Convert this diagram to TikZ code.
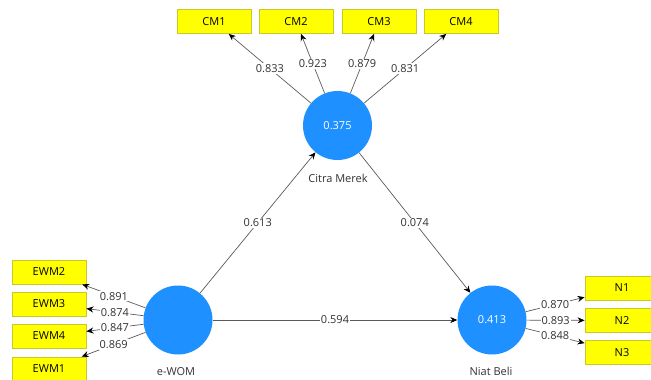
\documentclass[tikz,border=0pt]{standalone}
\usepackage{fontspec}
\setmainfont{Open Sans}
\usetikzlibrary{arrows.meta}
\definecolor{lvblue}{RGB}{30,144,255}
\definecolor{indfill}{RGB}{255,255,0}
\definecolor{inddraw}{RGB}{200,200,40}
\definecolor{linkgray}{RGB}{90,90,90}
\definecolor{txtgray}{RGB}{50,50,50}
\begin{document}
\begin{tikzpicture}[x=1pt,y=-1pt,
  latent/.style={circle,fill=lvblue,minimum size=69pt,inner sep=0pt,text=white,font=\fontsize{11}{13}\selectfont},
  indicator/.style={rectangle,fill=indfill,draw=inddraw,line width=0.8pt,minimum width=74pt,minimum height=24pt,inner sep=0pt,font=\fontsize{11}{13}\selectfont},
  link/.style={draw=linkgray,line width=0.7pt,-{Stealth[length=7pt,width=6pt,color=black]}},
  coef/.style={fill=white,inner sep=1pt,text=txtgray,font=\fontsize{11}{13}\selectfont},
  lvname/.style={text=txtgray,font=\fontsize{11}{13}\selectfont}
]
\useasboundingbox (0,0) rectangle (651,380);
\clip (0,0) rectangle (651,380);

% latent variables
\node[latent] (cm) at (337.5,125.5) {0.375};
\node[latent] (ew) at (178,320) {};
\node[latent] (nb) at (492,320) {0.413};
\node[lvname] (cmname) at (338,178) {Citra Merek};
\node[lvname] (ewname) at (176,372) {e-WOM};
\node[lvname] (nbname) at (491,371) {Niat Beli};

% indicators
\node[indicator] (cm1) at (214,21.5) {CM1};
\node[indicator] (cm2) at (296,21.5) {CM2};
\node[indicator] (cm3) at (379,21.5) {CM3};
\node[indicator] (cm4) at (461,21.5) {CM4};
\node[indicator] (ewm2) at (49,272) {EWM2};
\node[indicator] (ewm3) at (49,304) {EWM3};
\node[indicator] (ewm4) at (49,336) {EWM4};
\node[indicator] (ewm1) at (49,369) {EWM1};
\node[indicator] (n1) at (622,288) {N1};
\node[indicator] (n2) at (622,320.5) {N2};
\node[indicator] (n3) at (622,352.5) {N3};

% outer loadings
\draw[link] (cm) -- node[coef] {0.833} (cm1);
\draw[link] (cm) -- node[coef] {0.923} (cm2);
\draw[link] (cm) -- node[coef] {0.879} (cm3);
\draw[link] (cm) -- node[coef] {0.831} (cm4);
\draw[link] (ew) -- node[coef] {0.891} (ewm2);
\draw[link] (ew) -- node[coef] {0.874} (ewm3);
\draw[link] (ew) -- node[coef] {0.847} (ewm4);
\draw[link] (ew) -- node[coef] {0.869} (ewm1);
\draw[link] (nb) -- node[coef] {0.870} (n1);
\draw[link] (nb) -- node[coef] {0.893} (n2);
\draw[link] (nb) -- node[coef] {0.848} (n3);

% path coefficients
\draw[link] (ew) -- node[coef] {0.613} (cm);
\draw[link] (cm) -- node[coef] {0.074} (nb);
\draw[link] (ew) -- node[coef] {0.594} (nb);
\end{tikzpicture}
\end{document}
